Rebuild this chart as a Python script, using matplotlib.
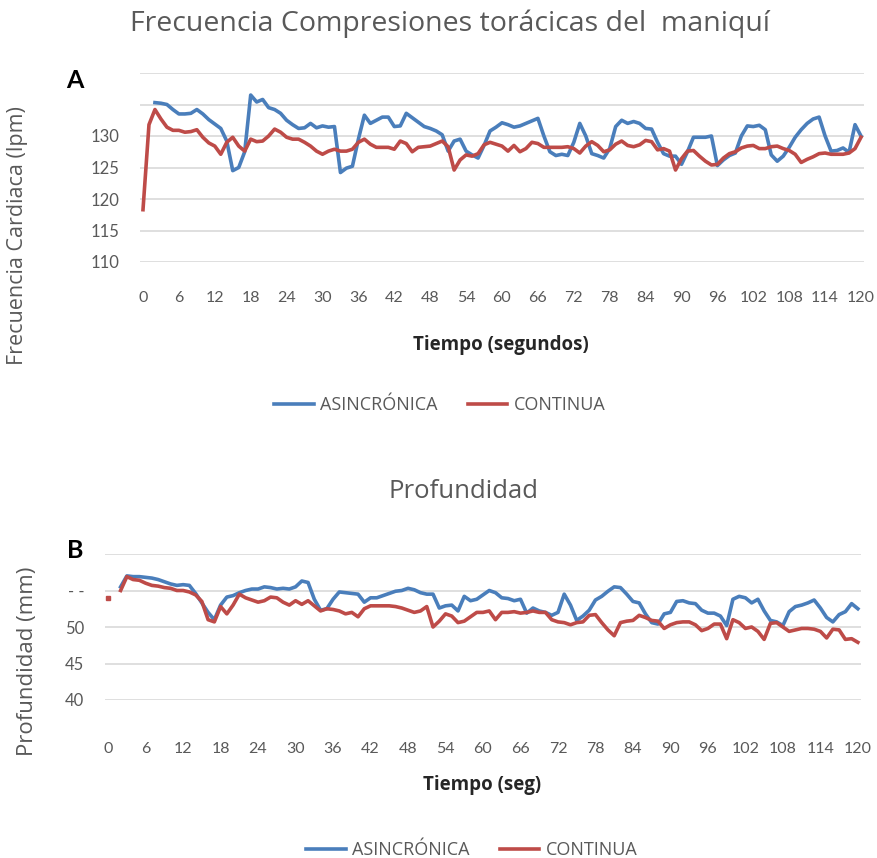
import numpy as np
import matplotlib.pyplot as plt

nan = np.nan

# seconds 0..120
tiempo = np.arange(121)
ticks_x = np.arange(0, 121, 6)

# Frecuencia (lpm)
frec_asincronica = [
    nan, nan, 135.3, 135.2, 135.0, 134.2, 133.5, 133.5, 133.6, 134.2,
    133.5, 132.6, 131.9, 131.2, 129.2, 124.5, 125.0, 127.5, 136.5, 135.4,
    135.8, 134.5, 134.2, 133.6, 132.5, 131.8, 131.2, 131.3, 132.0, 131.3,
    131.6, 131.4, 131.5, 124.2, 124.9, 125.2, 129.5, 133.3, 132.0, 132.5,
    133.0, 133.0, 131.5, 131.6, 133.6, 132.9, 132.2, 131.5, 131.2, 130.8,
    130.2, 127.6, 129.2, 129.5, 127.6, 127.0, 126.5, 128.5, 130.8, 131.4,
    132.1, 131.8, 131.4, 131.6, 132.0, 132.4, 132.8, 130.0, 127.5, 126.9,
    127.1, 126.9, 129.0, 132.0, 130.0, 127.2, 126.9, 126.5, 128.0, 131.5,
    132.5, 132.0, 132.3, 132.0, 131.2, 131.1, 129.0, 127.2, 126.8, 126.8,
    125.5, 127.5, 129.8, 129.8, 129.8, 130.0, 125.3, 126.2, 126.9, 127.3,
    130.0, 131.6, 131.5, 131.7, 131.0, 127.0, 126.0, 126.8, 128.2, 129.8,
    131.0, 132.0, 132.7, 133.0, 130.0, 127.6, 127.7, 128.1, 127.4, 131.8,
    130.0]
frec_continua = [
    118.3, 131.8, 134.2, 132.7, 131.4, 130.9, 130.9, 130.6, 130.7, 131.0,
    129.8, 128.9, 128.4, 127.1, 129.0, 129.8, 128.4, 127.6, 129.5, 129.1,
    129.2, 130.0, 131.1, 130.6, 129.8, 129.5, 129.5, 129.0, 128.4, 127.6,
    127.1, 127.6, 127.9, 127.6, 127.6, 127.9, 129.0, 129.5, 128.7, 128.2,
    128.2, 128.2, 127.9, 129.2, 128.8, 127.5, 128.2, 128.3, 128.4, 128.8,
    129.2, 128.3, 124.6, 126.2, 127.0, 126.8, 127.2, 128.6, 129.0, 128.7,
    128.4, 127.6, 128.5, 127.5, 128.0, 129.0, 128.8, 128.2, 128.2, 128.2,
    128.2, 128.3, 128.0, 127.3, 128.4, 129.1, 128.5, 127.5, 127.8, 128.7,
    129.2, 128.5, 128.3, 128.6, 129.3, 129.1, 127.8, 128.0, 127.6, 124.6,
    126.4, 127.6, 127.7, 126.8, 126.0, 125.4, 125.5, 126.5, 127.2, 127.5,
    128.1, 128.4, 128.5, 128.0, 128.0, 128.3, 128.4, 128.0, 127.7, 127.1,
    125.8, 126.3, 126.7, 127.2, 127.3, 127.1, 127.1, 127.1, 127.3, 128.0,
    129.8]

# Profundidad (mm)
prof_asincronica = [
    nan, nan, 55.5, 57.0, 56.9, 56.9, 56.8, 56.7, 56.5, 56.2,
    55.9, 55.7, 55.8, 55.7, 54.6, 53.3, 52.0, 51.0, 53.0, 54.1,
    54.3, 54.7, 55.0, 55.2, 55.2, 55.5, 55.4, 55.2, 55.3, 55.2,
    55.5, 56.3, 56.1, 53.8, 52.3, 52.5, 53.8, 54.8, 54.7, 54.6,
    54.5, 53.4, 54.0, 54.0, 54.3, 54.6, 54.9, 55.0, 55.3, 55.1,
    54.7, 54.5, 54.5, 52.6, 52.9, 53.0, 52.2, 54.2, 53.6, 53.8,
    54.4, 55.0, 54.7, 54.0, 53.9, 53.6, 53.8, 51.9, 52.6, 52.2,
    52.0, 51.6, 52.0, 54.5, 53.0, 50.9, 51.5, 52.3, 53.7, 54.2,
    54.9, 55.5, 55.4, 54.5, 53.5, 53.3, 51.8, 50.6, 50.4, 51.8,
    52.0, 53.5, 53.6, 53.3, 53.2, 52.3, 51.9, 51.9, 51.5, 50.2,
    53.8, 54.2, 54.0, 53.3, 53.8, 52.2, 50.9, 50.7, 50.2, 52.1,
    52.8, 53.0, 53.3, 53.7, 52.6, 51.3, 50.7, 51.7, 52.1, 53.2,
    52.5]
prof_continua = [
    54.0, nan, 55.0, 56.9, 56.5, 56.4, 56.0, 55.7, 55.6, 55.4,
    55.3, 55.0, 55.0, 54.8, 54.4, 53.5, 51.0, 50.7, 52.8, 51.8,
    53.0, 54.5, 54.0, 53.7, 53.4, 53.6, 54.1, 54.0, 53.4, 53.0,
    53.6, 53.1, 53.6, 52.9, 52.2, 52.5, 52.4, 52.2, 51.8, 52.0,
    51.4, 52.5, 52.9, 52.9, 52.9, 52.9, 52.8, 52.6, 52.3, 52.0,
    52.2, 52.8, 50.0, 50.8, 51.8, 51.5, 50.6, 50.8, 51.4, 52.0,
    52.0, 52.2, 51.0, 52.0, 52.0, 52.1, 51.9, 52.0, 52.2, 52.0,
    52.0, 51.0, 50.7, 50.6, 50.3, 50.6, 50.7, 51.6, 51.7, 50.6,
    49.6, 48.8, 50.6, 50.8, 50.9, 51.6, 51.3, 50.9, 50.8, 49.8,
    50.3, 50.6, 50.7, 50.7, 50.3, 49.5, 49.8, 50.4, 50.4, 48.4,
    51.0, 50.6, 49.8, 50.0, 49.4, 48.3, 50.5, 50.6, 50.0, 49.4,
    49.6, 49.8, 49.8, 49.7, 49.4, 48.5, 49.7, 49.6, 48.3, 48.4,
    47.9]

frec_yticks = [110, 115, 120, 125, 130, 135, 140]
frec_ylabels = ['110', '115', '120', '125', '130', '', '']
prof_yticks = [40, 45, 50, 55, 60]
prof_ylabels = ['40', '45', '50', '- -', '']

plt.rcParams['font.family'] = ['Lato', 'DejaVu Sans']
blue, red = '#4A7EBB', '#BE4B48'
gray_txt, grid_c = '#595959', '#D9D9D9'
wide = ['Open Sans', 'DejaVu Sans']

W, H = 878, 858
fig = plt.figure(figsize=(W / 100, H / 100), dpi=100)


def px_axes(left, top, right, bottom):
    return fig.add_axes([left / W, 1 - bottom / H, (right - left) / W, (bottom - top) / H])


def style(ax, yticks, ylabels, ylim, xpad):
    ax.set_xlim(-0.5, 120.5)
    ax.set_ylim(*ylim)
    ax.set_yticks(yticks)
    ax.set_yticklabels(ylabels)
    ax.set_xticks(ticks_x)
    ax.set_xticklabels([str(v) for v in ticks_x])
    for s in ax.spines.values():
        s.set_visible(False)
    ax.grid(axis='y', color=grid_c, lw=1.2)
    ax.set_axisbelow(True)
    ax.tick_params(axis='y', length=0, pad=15, labelsize=12, labelcolor=gray_txt)
    ax.tick_params(axis='x', length=0, pad=xpad, labelsize=11.5, labelcolor=gray_txt)


# --- A: frecuencia
ax1 = px_axes(140, 73, 864, 262)
ax1.plot(tiempo, frec_asincronica, color=blue, lw=2.6)
ax1.plot(tiempo, frec_continua, color=red, lw=2.6)
style(ax1, frec_yticks, frec_ylabels, (110, 140), 21)

fig.text(450 / W, 1 - 24 / H, 'Frecuencia Compresiones torácicas del  maniquí',
         ha='center', va='center', fontsize=20.5, color=gray_txt, family=wide)
fig.text(75 / W, 1 - 80 / H, 'A', ha='center', va='center', fontsize=18, fontweight='bold')
fig.text(18 / W, 1 - 236 / H, 'Frecuencia Cardiaca (lpm)', rotation=90,
         ha='center', va='center', fontsize=15.5, color=gray_txt, family=wide)
fig.text(501 / W, 1 - 345 / H, 'Tiempo (segundos)', ha='center', va='center',
         fontsize=13.5, fontweight='bold', color='#262626', family=wide)

# --- B: profundidad
ax2 = px_axes(105, 554, 861, 700)
ax2.plot(tiempo, prof_asincronica, color=blue, lw=2.6)
ax2.plot(tiempo, prof_continua, color=red, lw=2.6)
ax2.plot(tiempo[:1], prof_continua[:1], 's', color=red, ms=3)
style(ax2, prof_yticks, prof_ylabels, (40, 60), 30)

fig.text(464 / W, 1 - 492 / H, 'Profundidad', ha='center', va='center',
         fontsize=18.5, color=gray_txt, family=wide)
fig.text(75 / W, 1 - 550 / H, 'B', ha='center', va='center', fontsize=18, fontweight='bold')
fig.text(28 / W, 1 - 661 / H, 'Profundidad (mm)', rotation=90,
         ha='center', va='center', fontsize=16, color=gray_txt, family=wide)
fig.text(482 / W, 1 - 785 / H, 'Tiempo (seg)', ha='center', va='center',
         fontsize=13.5, fontweight='bold', color='#262626', family=wide)

# legends
for ax, cy, cx in [(ax1, 405, 440), (ax2, 850, 472)]:
    fig.legend(ax.get_lines()[:2], ['ASINCRÓNICA', 'CONTINUA'], loc='center',
               bbox_to_anchor=(cx / W, 1 - cy / H), ncol=2, frameon=False,
               prop={'family': wide, 'size': 13}, labelcolor=gray_txt,
               handlelength=2.2, columnspacing=1.65, handletextpad=0.35)

fig.savefig('out.png', dpi=100, facecolor='white')
